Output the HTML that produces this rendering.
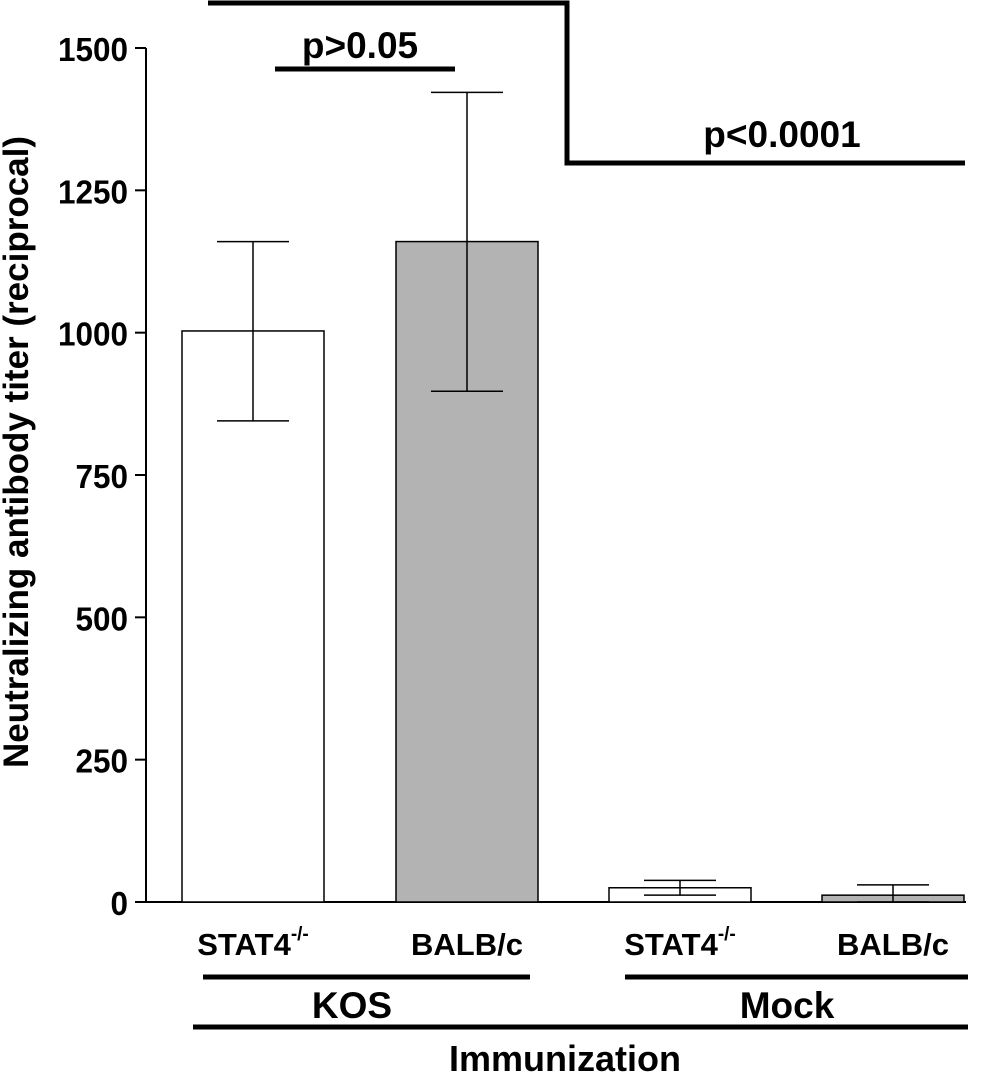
<!DOCTYPE html>
<html><head><meta charset="utf-8"><style>
body{margin:0;background:#fff;}
svg text{font-family:"Liberation Sans",Arial,sans-serif;font-weight:bold;fill:#000;}
</style></head><body>
<svg id="chart" width="1000" height="1077" viewBox="0 0 1000 1077" xmlns="http://www.w3.org/2000/svg">
<g id="axis"></g>
<g id="bars"></g>
<text transform="translate(28,452) rotate(-90)" text-anchor="middle" font-size="35">Neutralizing antibody titer (reciprocal)</text>
<g stroke="#000" stroke-width="5" fill="none">
<polyline points="208,3 567,3 567,163 965,163"/>
<line x1="275" y1="69" x2="455" y2="69"/>
<line x1="203" y1="977" x2="530" y2="977"/>
<line x1="625" y1="977" x2="968" y2="977"/>
<line x1="193" y1="1027" x2="968" y2="1027"/>
</g>
<text x="360" y="58" text-anchor="middle" font-size="37">p&gt;0.05</text>
<text x="782" y="147" text-anchor="middle" font-size="37">p&lt;0.0001</text>
<text x="352" y="1018" text-anchor="middle" font-size="37">KOS</text>
<text x="787" y="1018" text-anchor="middle" font-size="37">Mock</text>
<text x="565" y="1071" text-anchor="middle" font-size="36">Immunization</text>
</svg>
<script>
const categories=["STAT4","BALB/c","STAT4","BALB/c"];
const superscripts=["-/-","","-/-",""];
const means=[1003,1160,25,12];
const errLow=[845,897,12,0];
const errHigh=[1160,1422,38,30];
const fills=["#fff","#b3b3b3","#fff","#b3b3b3"];
const ticks=[0,250,500,750,1000,1250,1500];
const NS="http://www.w3.org/2000/svg";
const y0=902,yTop=48,maxV=1500;
function y(v){return y0-(v/maxV)*(y0-yTop);}
const barLeft=[182,396,609,822],barW=142;
function mk(t,a,p){const e=document.createElementNS(NS,t);for(const k in a)e.setAttribute(k,a[k]);p.appendChild(e);return e;}
const ax=document.getElementById('axis');
let l=mk('line',{x1:146,y1:y(0),x2:146,y2:y(1500),stroke:'#000','stroke-width':2},ax);


l=mk('line',{x1:146,y1:y(0),x2:966,y2:y(0),stroke:'#000','stroke-width':2},ax);


ticks.forEach(t=>{
 const tl=mk('line',{x1:135,y1:y(t),x2:146,y2:y(t),stroke:'#000','stroke-width':2},ax);
 
 
 const tx=mk('text',{x:128,y:y(t)+13,'text-anchor':'end','font-size':33,'textLength':(String(t).length*17.5),'lengthAdjust':'spacingAndGlyphs'},ax);
 tx.textContent=t;
 
 
});
const bg=document.getElementById('bars');
means.forEach((m,i)=>{
 const x=barLeft[i],cx=x+barW/2;
 const r=mk('rect',{x:x,y:y(m),width:barW,height:y(0)-y(m),fill:fills[i],stroke:'#000','stroke-width':1.5},bg);
 
 
 const g=mk('g',{stroke:'#000','stroke-width':1.5},bg);
 
 
 mk('line',{x1:cx,y1:y(errLow[i]),x2:cx,y2:y(errHigh[i])},g);
 mk('line',{x1:cx-36,y1:y(errHigh[i]),x2:cx+36,y2:y(errHigh[i])},g);
 mk('line',{x1:cx-36,y1:y(errLow[i]),x2:cx+36,y2:y(errLow[i])},g);
 const t=mk('text',{x:cx,y:955,'text-anchor':'middle','font-size':31},bg);
 t.textContent=categories[i];
 if(superscripts[i]){const s=mk('tspan',{dy:-15,'font-size':19},t);s.textContent=superscripts[i];}
 
 
});
</script>
</body></html>
